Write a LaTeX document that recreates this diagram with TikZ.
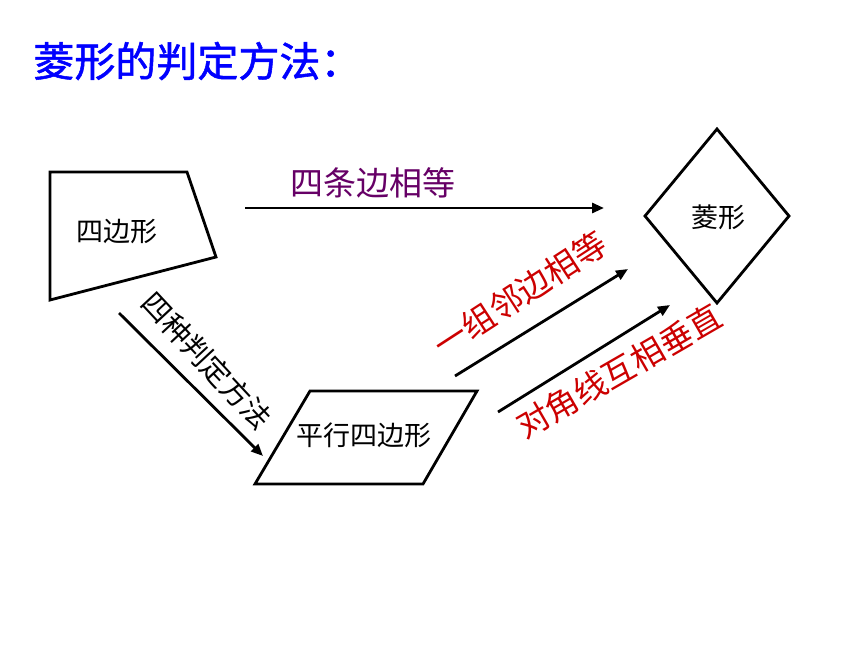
\documentclass[tikz,border=0pt]{standalone}
\usepackage{fontspec}
\setmainfont{Liberation Sans}
\newfontfamily\cjk{Noto Sans CJK SC}
\newfontfamily\cjkheavy[FakeBold=1.3]{Noto Sans CJK SC}
\usetikzlibrary{arrows.meta}
\definecolor{titleblue}{RGB}{0,0,255}
\definecolor{lblpurple}{RGB}{102,0,102}
\definecolor{lblred}{RGB}{204,0,0}
\begin{document}
\begin{tikzpicture}[x=1pt,y=-1pt,line width=2.8pt,
  txt/.style={font=\cjk\fontsize{27}{27}\selectfont,inner sep=0pt},
  bigtxt/.style={font=\cjk\fontsize{33}{33}\selectfont,inner sep=0pt},
  arr/.style={-{Triangle[length=12pt,width=10pt]},line width=2.8pt}]
\useasboundingbox (0,0) rectangle (860,645);
% title
\node[anchor=west,inner sep=0pt,text=titleblue,font=\cjkheavy\fontsize{41}{41}\selectfont] (title) at (32,61) {菱形的判定方法：};
% shapes
\draw[line join=miter] (50,172) -- (187,172) -- (216,257) -- (50,300) -- cycle;
\node[txt] (quad) at (117,232) {四边形};
\draw[line join=miter] (717,129) -- (789,216) -- (717,303) -- (645,216) -- cycle;
\node[txt] (rhombus) at (718,217) {菱形};
\draw[line join=miter] (310,391) -- (477,391) -- (423,484) -- (255,484) -- cycle;
\node[txt] (para) at (364,435) {平行四边形};
% arrows
\coordinate (a1s) at (245,208);
\coordinate (a1e) at (604,208);
\coordinate (a2s) at (119,313);
\coordinate (a2e) at (263,456);
\coordinate (a3s) at (455,376);
\coordinate (a3e) at (628,269);
\coordinate (a4s) at (498,412);
\coordinate (a4e) at (670,305);
\draw[arr] (a1s) -- (a1e);
\draw[arr] (a2s) -- (a2e);
\draw[arr] (a3s) -- (a3e);
\draw[arr] (a4s) -- (a4e);
% labels
\node[bigtxt,text=lblpurple] (lbl1) at (373,183) {四条边相等};
\node[txt,font=\cjk\fontsize{29}{29}\selectfont,rotate=-47] (lbl2) at (207,361) {四种判定方法};
\node[bigtxt,text=lblred,rotate=33] (lbl3) at (520,294) {一组邻边相等};
\node[bigtxt,text=lblred,rotate=30] (lbl4) at (619,371) {对角线互相垂直};
\end{tikzpicture}
\end{document}
